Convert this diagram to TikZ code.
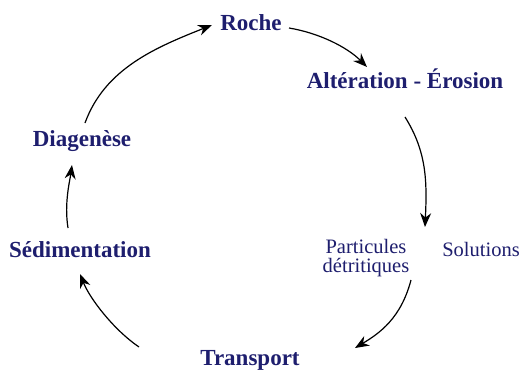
\documentclass[tikz,border=0pt]{standalone}
\usepackage{fontspec}
\setmainfont{Liberation Serif}
\usetikzlibrary{arrows.meta}
\definecolor{navy}{RGB}{30,30,110}
\begin{document}
\begin{tikzpicture}[x=1pt,y=-1pt,
  big/.style={text=navy,font=\fontsize{23}{26}\selectfont\bfseries,inner sep=2pt},
  small/.style={text=navy,font=\fontsize{20.5}{19}\selectfont,inner sep=2pt,align=center},
  arr/.style={line width=1.2pt,-{Stealth[length=14pt,width=11pt]}}]
\useasboundingbox[fill=white] (0,0) rectangle (522,372);
\node[big] (roche) at (251,23) {Roche};
\node[big] (alt) at (405,79) {Altération - Érosion};
\node[big] (dia) at (82,141) {Diagenèse};
\node[big] (sed) at (80,250) {Sédimentation};
\node[big] (tra) at (250,360) {Transport};
\node[small] (par) at (366,258) {Particules\\détritiques};
\node[small] (sol) at (481,249) {Solutions};
\draw[arr] ([shift={(3,-18)}]dia.center) .. controls +(20,-55) and +(-55,22) .. ([shift={(-39,2)}]roche.center);
\draw[arr] ([shift={(38,5)}]roche.center) .. controls +(30,5) and +(-20,-20) .. ([shift={(-38,-12)}]alt.center);
\draw[arr] ([shift={(0,38)}]alt.center) .. controls +(22,35) and +(2,-45) .. ([shift={(59,-31)}]par.center);
\draw[arr] ([shift={(45,22)}]par.center) .. controls +(-10,38) and +(25,-15) .. ([shift={(105,-12)}]tra.center);
\draw[arr] ([shift={(-111,-13)}]tra.center) .. controls +(-25,-17) and +(10,25) .. ([shift={(0,24)}]sed.center);
\draw[arr] ([shift={(-12,-22)}]sed.center) .. controls +(-4,-25) and +(-2,15) .. ([shift={(-10,24)}]dia.center);
\end{tikzpicture}
\end{document}
